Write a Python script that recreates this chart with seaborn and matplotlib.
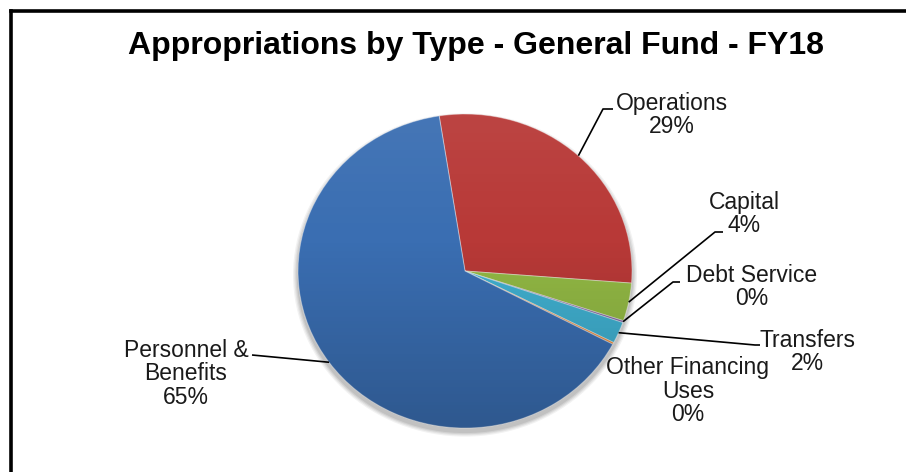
import numpy as np
import matplotlib
matplotlib.use("Agg")
import matplotlib.pyplot as plt
from matplotlib.patches import Ellipse
import seaborn as sns

# Slice data, in drawing order (clockwise from the top)
categories = ["Operations", "Capital", "Debt Service", "Transfers",
              "Other Financing\nUses", "Personnel &\nBenefits"]
shares = [28.7, 3.9, 0.2, 2.2, 0.2, 64.8]
slice_colors = ["#B83937", "#92B844", "#7E62A0", "#40AFCF", "#E8893A", "#3A6EB2"]
title = "Appropriations by Type - General Fund - FY18"

W, H = 906, 472
sns.set_theme(style="white")
plt.rcParams["font.family"] = ["Liberation Sans", "DejaVu Sans"]
palette = sns.color_palette(slice_colors)

fig = plt.figure(figsize=(W / 100, H / 100), dpi=100)
fig.patch.set_facecolor("white")

# Pie axes spans the ellipse's bounding box (pixel layout, y measured downwards)
cx, cy, rx, ry = 465, 271, 167, 157
ax = fig.add_axes([(cx - rx) / W, 1 - (cy + ry) / H, 2 * rx / W, 2 * ry / H])

# soft drop shadow under the pie
for k, a in zip([0.06, 0.045, 0.03, 0.015], [0.05, 0.06, 0.07, 0.08]):
    ax.add_patch(Ellipse((0, -0.025), 2 + k, 2 + k, color="black", alpha=a,
                         lw=0, zorder=0, clip_on=False))

wedges, _ = ax.pie(shares, colors=palette, startangle=98.9, counterclock=False,
                   radius=1, center=(0, 0), frame=False,
                   wedgeprops=dict(linewidth=0.7, edgecolor=(1, 1, 1, 0.4)))
for w in wedges:
    w.set_zorder(2)
    w.set_clip_on(False)

# vertical shading over the pie: slightly lighter top, darker bottom
t = np.linspace(0, 1, 256)
grad = np.zeros((256, 2, 4))
grad[:, :, :3] = np.where(t < 0.4, 1.0, 0.0)[:, None, None]
grad[:, :, 3] = np.where(t < 0.4, 0.06 * (1 - t / 0.4), 0.20 * (t - 0.4) / 0.6)[:, None]
img = ax.imshow(grad, extent=(-1, 1, -1, 1), origin="upper", aspect="auto",
                zorder=3, interpolation="bilinear")
clip = Ellipse((0, 0), 2, 2, transform=ax.transData)
img.set_clip_path(clip)

ax.set_aspect("auto")
ax.set_xlim(-1, 1)
ax.set_ylim(-1, 1)
ax.axis("off")

# Overlay axes in pixel units (y downwards) for labels, leaders and frame
ov = fig.add_axes([0, 0, 1, 1], facecolor="none")
ov.set_xlim(0, W)
ov.set_ylim(H, 0)
ov.axis("off")

def edge_point(w):
    th = np.deg2rad((w.theta1 + w.theta2) / 2)
    disp = ax.transData.transform((np.cos(th), np.sin(th)))
    return ov.transData.inverted().transform(disp)

label_pos = [(672, 115), (744, 214), (752, 287), (807, 352), (688, 391), (186, 374)]
elbows = [[(603, 109), (613, 109)],
          [(715, 232), (723, 232)],
          [(673, 282), (680, 282)],
          [(755, 345), (760, 345)],
          None,
          [(252, 355)]]

for w, name, val, pos, elb in zip(wedges, categories, shares, label_pos, elbows):
    ov.text(pos[0], pos[1], f"{name}\n{round(val)}%", ha="center", va="center",
            fontsize=16.5, color="#1a1a1a", linespacing=1.03)
    if elb:
        p = edge_point(w)
        xs = [p[0]] + [e[0] for e in elb]
        ys = [p[1]] + [e[1] for e in elb]
        ov.plot(xs, ys, color="black", lw=1.2, solid_capstyle="butt")

ov.text(476, 46, title, ha="center", va="center", fontsize=23,
        fontweight="bold", color="black")

# frame (top and left edges)
ov.plot([10.5, W + 5], [11, 11], color="black", lw=2.6, solid_capstyle="projecting")
ov.plot([10.5, 10.5], [11, H + 5], color="black", lw=2.6, solid_capstyle="projecting")

fig.savefig("out.png", dpi=100, facecolor="white")
